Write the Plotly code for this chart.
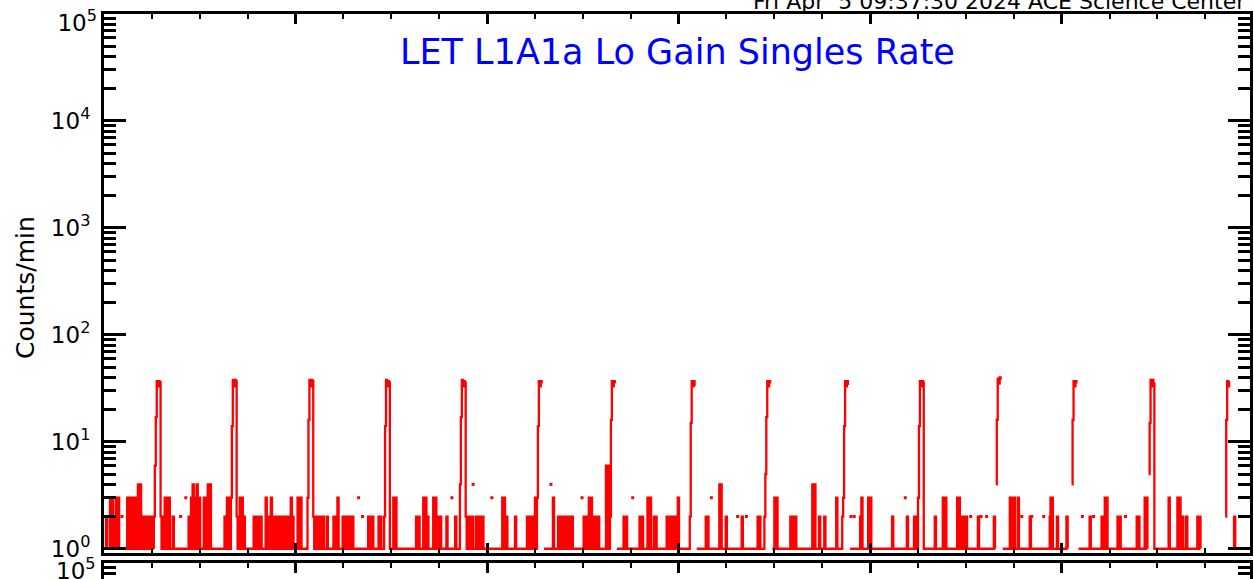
import plotly.graph_objects as go

# ---- data (time in hours since start of the 6-day window, values in counts/min) ----
burst_hours = [
    0.25, 0.75, 1.0, 1.25, 1.5, 1.75, 2.9, 3.1, 3.5, 3.75, 4.0, 4.25, 4.5, 4.9, 5.1, 5.4, 5.6, 5.9, 6.1,
    7.25, 7.6, 7.9, 8.1, 8.6, 10.6, 10.9, 11.1, 11.4, 11.6, 11.9, 12.5, 12.75, 13.0, 13.25,
    15.1, 15.4, 15.6, 17.0, 17.25, 17.5, 18.75, 19.0, 19.4, 19.6, 20.25, 20.6, 20.9, 21.1, 21.5, 21.75, 22.0, 22.25, 22.5, 22.75, 23.0, 23.4, 23.6, 24.25, 24.6,
    26.5, 26.75, 27.1, 27.4, 27.9, 28.75, 28.9, 29.25, 29.9, 30.1, 30.5, 30.75, 31.1, 33.1, 33.4, 33.6, 34.4, 34.6,
    36.25, 36.5, 39.1, 39.4, 40.0, 40.25, 40.5, 41.25, 41.5, 41.9, 42.1, 42.9, 44.0,
    45.6, 45.9, 46.1, 46.6, 46.9, 47.1, 47.4, 49.9, 50.1, 50.4, 51.5, 53.0, 53.25, 53.5, 53.75, 54.0,
    56.25, 56.9, 57.1, 57.4, 57.6, 57.9, 58.1, 58.4, 58.6, 60.1, 60.4, 60.75, 61.0, 61.4, 61.6, 61.9, 62.9, 63.1,
    65.1, 65.4, 67.1, 67.4, 68.1, 68.4, 68.9, 69.1, 70.5, 70.75, 71.0, 71.25, 71.5, 71.9,
    75.4, 75.6, 77.1, 77.25, 77.9, 79.9, 81.9, 82.1,
    84.0, 84.25, 86.0, 86.25, 86.6, 88.75, 89.0, 89.6, 90.25, 91.75,
    94.75, 94.9, 95.75, 96.0, 98.75, 100.6, 101.5, 101.75,
    104.1, 105.1, 105.4, 106.9, 107.1, 107.5, 107.75, 108.0, 109.5, 111.5,
    113.5, 113.75, 114.0, 114.5, 116.0, 118.5, 118.6, 118.75, 119.4, 120.6,
    123.5, 125.0, 125.4, 125.6, 127.0, 127.25, 129.4, 129.6, 130.4, 130.6,
    133.4, 134.5, 134.75, 135.1, 135.6, 137.0, 137.25, 141.6,
]
burst_levels = [
    2, 3, 3, 2, 3, 3, 3, 3, 3, 3, 3, 4, 4, 2, 2, 2, 2, 2, 2,
    2, 3, 3, 3, 2, 2, 3, 4, 3, 4, 3, 3, 3, 4, 4,
    2, 3, 3, 3, 3, 2, 2, 2, 2, 2, 3, 2, 3, 2, 2, 2, 2, 2, 2, 2, 2, 3, 2, 3, 3,
    2, 2, 2, 2, 2, 2, 2, 3, 2, 2, 2, 2, 2, 2, 2, 2, 2, 2,
    3, 3, 2, 2, 3, 3, 2, 3, 3, 2, 2, 2, 2,
    2, 2, 2, 2, 2, 2, 2, 3, 3, 2, 2, 2, 2, 2, 2, 3,
    3, 2, 2, 2, 2, 2, 2, 2, 2, 2, 2, 3, 3, 2, 2, 2, 6, 6,
    2, 2, 2, 2, 3, 3, 2, 2, 2, 2, 2, 2, 2, 3,
    2, 2, 4, 4, 2, 2, 2, 2,
    3, 3, 2, 2, 2, 4, 4, 2, 2, 3,
    2, 3, 3, 3, 2, 2, 2, 2,
    2, 3, 3, 3, 3, 2, 2, 2, 2, 2,
    3, 3, 3, 3, 2, 2, 3, 3, 2, 2,
    2, 2, 3, 3, 2, 2, 2, 2, 3, 3,
    3, 3, 3, 2, 2, 2, 2, 2,
]

dot_hours = [2.25, 9.6, 10.25, 31.9, 32.4, 43.6, 46.25, 48.6, 56.0, 59.9, 66.25, 76.1, 79.4, 80.5,
             93.6, 94.0, 100.4, 108.6, 109.9, 110.6, 115.0, 116.25, 117.75, 122.6, 124.0, 128.0]
dot_levels = [2, 2, 3, 3, 2, 3, 4, 3, 4, 3, 3, 3, 2, 2,
              2, 2, 3, 2, 2, 2, 2, 2, 2, 2, 2, 2]

spike_hours = [6.25, 15.9, 25.5, 35.1, 44.6, 54.25, 63.4, 73.4, 82.75, 92.5, 102.0, 111.75, 121.25, 130.9, 140.5]
spike_values = [
    [2, 6, 17, 37, 33, 37, 36, 2],
    [3, 14, 38, 33, 38, 37, 2],
    [3, 16, 38, 33, 38, 37, 2],
    [2, 14, 38, 33, 37, 36, 1],
    [4, 17, 38, 33, 37, 36, 2],
    [3, 14, 37, 33, 37, 35],
    [2, 16, 37, 33, 37, 35],
    [2, 15, 37, 33, 37, 33],
    [2, 5, 17, 37, 33, 37, 35],
    [2, 3, 14, 37, 33, 37, 34],
    [3, 14, 37, 33, 37, 36, 1],
    [4, 16, 39, 35, 40, 38],
    [4, 16, 37, 33, 37, 35],
    [5, 15, 38, 33, 38, 35, 1],
    [2, 16, 37, 33, 37],
]
spike_join_left = [True] * 11 + [False] * 4
spike_join_right = [True, True, True, True, True, False, False, False, False, False, True, False, False, True, False]

x_end = 143.6
day_ticks = [0, 24, 48, 72, 96, 120]
quarter_ticks = [6, 12, 18, 30, 36, 42, 54, 60, 66, 78, 84, 90, 102, 108, 114, 126, 132, 138]
y_major = [1, 10, 100, 1000, 10000, 100000]
y_major_text = ["10<sup>0</sup>", "10<sup>1</sup>", "10<sup>2</sup>", "10<sup>3</sup>", "10<sup>4</sup>", ""]
y_top_text = ["10<sup>5</sup>"]
y_minor = [m * 10 ** k for k in range(5) for m in range(2, 10)]

# ---- build the line (baseline at 1 with bursts and spikes) ----
events = [(h, "b", v) for h, v in zip(burst_hours, burst_levels)]
events += [(h, "s", i) for i, h in enumerate(spike_hours)]
events.sort(key=lambda e: e[0])

xs, ys = [0.0], [1]
bw = 0.15
sw = 0.12
for h, kind, v in events:
    if kind == "b":
        xs += [h, h + bw]
        ys += [v, 1]
    else:
        vals = spike_values[v]
        if not spike_join_left[v]:
            xs.append(h - 0.05); ys.append(None)
        for i, val in enumerate(vals):
            xs.append(h + i * sw); ys.append(val)
        end = h + len(vals) * sw
        if spike_join_right[v]:
            xs.append(end); ys.append(1)
        else:
            xs += [end, end + 0.15]; ys += [None, 1]
xs.append(x_end); ys.append(1)

fig = go.Figure()
fig.add_trace(go.Scatter(x=xs, y=ys, mode="lines", line=dict(color="#ff0000", width=2.3, shape="hv"),
                         connectgaps=False, showlegend=False, xaxis="x", yaxis="y"))
fig.add_trace(go.Scatter(x=dot_hours, y=dot_levels, mode="markers",
                         marker=dict(color="#ff0000", size=3, symbol="square"),
                         showlegend=False, xaxis="x", yaxis="y"))
# invisible anchors for the helper axes
for xa, ya in [("x2", "y2"), ("x3", "y"), ("x", "y3"), ("x", "y4"), ("x2", "y5")]:
    fig.add_trace(go.Scatter(x=[None], y=[None], mode="lines", showlegend=False,
                             hoverinfo="skip", xaxis=xa, yaxis=ya))

font_family = "DejaVu Sans"
H = 579
top_m = 14
plot_h = H - top_m


def py(p):
    return (H - p) / plot_h


tickfont = dict(family=font_family, size=23, color="black")
xmajor = dict(ticks="inside", ticklen=10, tickwidth=3, tickcolor="black", tickvals=day_ticks,
              showticklabels=False, showgrid=False, zeroline=False, range=[0, x_end])
xminor = dict(ticks="inside", ticklen=5, tickwidth=2, tickcolor="black", tickvals=quarter_ticks)
ymajor_common = dict(type="log", ticks="inside", ticklen=22, tickwidth=3, tickcolor="black",
                     showgrid=False, zeroline=False)
yminor = dict(ticks="inside", ticklen=12, tickwidth=3, tickcolor="black", tickvals=y_minor)
yminor2 = dict(ticks="inside", ticklen=12, tickwidth=3, tickcolor="black", tickvals=[90000, 80000])

d1 = [py(552.5), 1]
d2 = [0, py(563)]

fig.update_layout(
    width=1254, height=H,
    margin=dict(l=104, r=4, t=top_m, b=0, autoexpand=False),
    paper_bgcolor="white", plot_bgcolor="white",
    # top panel
    xaxis=dict(domain=[0, 1], anchor="y", showline=True, linewidth=3, linecolor="black",
               mirror=True, minor=xminor, **xmajor),
    xaxis3=dict(overlaying="x", anchor="y", side="top", showline=False, minor=xminor, **xmajor),
    yaxis=dict(domain=d1, range=[-0.035, 5], anchor="x", showline=True, linewidth=3,
               linecolor="black", mirror=True, tickvals=y_major, ticktext=y_major_text,
               tickfont=tickfont, ticklabelstandoff=6, minor=yminor, **ymajor_common),
    yaxis3=dict(overlaying="y", anchor="x", side="left", range=[-0.035, 5], showline=False,
                tickvals=[100000], ticktext=y_top_text, tickfont=tickfont,
                ticklabelshift=9, ticklabelstandoff=6, **ymajor_common),
    yaxis4=dict(overlaying="y", anchor="x", side="right", range=[-0.035, 5], showline=False,
                tickvals=y_major, showticklabels=False, minor=yminor, **ymajor_common),
    # bottom panel (only its top edge is in view)
    xaxis2=dict(domain=[0, 1], anchor="y2", side="top", showline=True, linewidth=3,
                linecolor="black", minor=xminor, **xmajor),
    yaxis2=dict(domain=d2, range=[4.85, 5], anchor="x2", showline=True, linewidth=3,
                linecolor="black", mirror=True, tickvals=[100000], showticklabels=False,
                minor=yminor2, **ymajor_common),
    yaxis5=dict(overlaying="y2", anchor="x2", side="right", range=[4.85, 5], showline=False,
                tickvals=[100000], showticklabels=False, minor=yminor2, **ymajor_common),
    annotations=[
        dict(text="LET L1A1a Lo Gain Singles Rate", xref="paper", yref="paper",
             x=0.5, y=py(52), xanchor="center", yanchor="middle", showarrow=False,
             font=dict(family=font_family, size=35, color="#0000ff")),
        dict(text="Fri Apr  5 09:37:30 2024 ACE Science Center", xref="paper", yref="paper",
             x=(1248 - 104) / 1146, y=py(1), xanchor="right", yanchor="middle", showarrow=False,
             font=dict(family=font_family, size=22, color="black")),
        dict(text="Counts/min", xref="paper", yref="paper", textangle=-90,
             x=(25 - 104) / 1146, y=py(288), xanchor="center", yanchor="middle", showarrow=False,
             font=dict(family=font_family, size=25, color="black")),
        dict(text=y_top_text[0], xref="paper", yref="paper",
             x=(98 - 104) / 1146, y=py(569), xanchor="right", yanchor="middle", showarrow=False,
             font=tickfont),
    ],
)

fig.write_html("out.html", config={"displayModeBar": False},
               post_script="document.body.style.margin='0';document.body.style.overflow='hidden';")
